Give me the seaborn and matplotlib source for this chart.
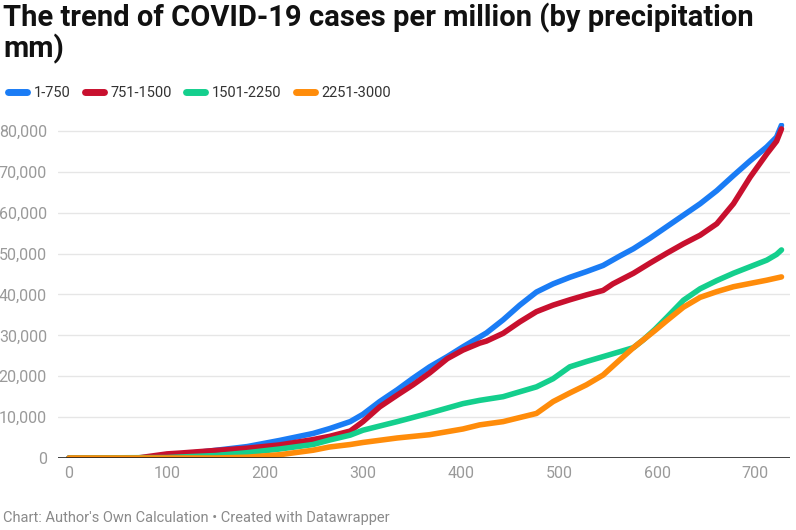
import numpy as np
import pandas as pd
import matplotlib
matplotlib.use("Agg")
import matplotlib.pyplot as plt
import seaborn as sns
from matplotlib.lines import Line2D
from matplotlib.ticker import FuncFormatter

# ---- data ----
series_names = ["1-750", "751-1500", "1501-2250", "2251-3000"]
series_colors = ["#1a7cf5", "#c8102e", "#14cf8d", "#ff8c0a"]

days_a = [0, 70, 90, 113, 147, 182, 215, 249, 266, 287, 300, 317, 335, 351, 368, 386, 402, 419, 426, 443, 460, 477, 494, 511, 528, 545, 562, 576, 593, 610, 627, 644, 661, 678, 695, 712, 722, 727]
vals_a = [0, 0, 300, 900, 1800, 2800, 4300, 6000, 7200, 8900, 10700, 13800, 16700, 19500, 22300, 24800, 27200, 29600, 30600, 33800, 37400, 40600, 42600, 44200, 45600, 47100, 49400, 51200, 53800, 56600, 59400, 62200, 65400, 69100, 72700, 76100, 78500, 81400]

days_b = [0, 70, 85, 100, 113, 147, 182, 215, 249, 266, 287, 300, 317, 335, 351, 368, 386, 402, 419, 426, 443, 460, 477, 494, 511, 528, 545, 555, 576, 593, 610, 627, 644, 661, 678, 695, 712, 722, 727]
vals_b = [0, 0, 500, 1000, 1200, 1800, 2400, 3200, 4500, 5300, 6600, 8900, 12500, 15400, 17900, 20800, 24300, 26400, 28100, 28600, 30500, 33300, 35800, 37400, 38700, 39900, 41000, 42600, 45200, 47700, 50100, 52400, 54500, 57300, 62200, 68700, 74400, 77500, 80500]

days_c = [0, 100, 150, 182, 215, 249, 266, 287, 300, 335, 368, 402, 419, 443, 460, 477, 494, 511, 528, 545, 562, 576, 586, 598, 610, 627, 644, 661, 678, 695, 712, 722, 727]
vals_c = [0, 100, 600, 1300, 2200, 3300, 4400, 5600, 6800, 8900, 11000, 13300, 14100, 15000, 16200, 17400, 19400, 22300, 23600, 24800, 26000, 27000, 28900, 31500, 34400, 38600, 41400, 43400, 45200, 46800, 48400, 49800, 50900]

days_d = [0, 150, 182, 215, 249, 266, 287, 300, 335, 368, 402, 419, 443, 477, 487, 494, 511, 528, 545, 562, 576, 586, 598, 610, 627, 644, 661, 678, 695, 712, 727]
vals_d = [0, 0, 200, 800, 1900, 2700, 3300, 3800, 4900, 5700, 7100, 8100, 8900, 10900, 12600, 13800, 15900, 17900, 20300, 24000, 27000, 28900, 31200, 33600, 36900, 39300, 40700, 41900, 42700, 43500, 44300]

y_ticks = [0, 10000, 20000, 30000, 40000, 50000, 60000, 70000, 80000]
x_ticks = [0, 100, 200, 300, 400, 500, 600, 700]

title = "The trend of COVID-19 cases per million (by precipitation\nmm)"
footer = "Chart: Author's Own Calculation \u2022 Created with Datawrapper"

frames = []
for name, d, v in zip(series_names, [days_a, days_b, days_c, days_d], [vals_a, vals_b, vals_c, vals_d]):
    frames.append(pd.DataFrame({"day": d, "cases": v, "group": name}))
df = pd.concat(frames, ignore_index=True)

sns.set_theme(style="white")
plt.rcParams["font.family"] = ["Roboto", "DejaVu Sans"]

W, H = 796, 530
fig = plt.figure(figsize=(W / 100, H / 100), dpi=100)
ax = fig.add_axes([58 / W, 1 - 458 / H, (790 - 58) / W, (458 - 122.8) / H])

sns.lineplot(data=df, x="day", y="cases", hue="group", hue_order=series_names,
             palette=dict(zip(series_names, series_colors)), linewidth=4.0,
             ax=ax, legend=False, sort=True, estimator=None,
             solid_capstyle="round", solid_joinstyle="round", zorder=3)

ax.set_xlim(-11.2, 735.7)
ax.set_ylim(0, 82000)
ax.set_xticks(x_ticks)
ax.set_yticks(y_ticks)
ax.yaxis.set_major_formatter(FuncFormatter(lambda v, p: f"{int(v):,}"))
ax.set_xlabel("")
ax.set_ylabel("")
for s in ["top", "right", "left", "bottom"]:
    ax.spines[s].set_visible(False)
ax.grid(axis="y", color="#e6e6e6", linewidth=1.0, zorder=0)
ax.grid(axis="x", visible=False)
ax.axhline(0, color="#222222", linewidth=1.2, zorder=4)
ax.tick_params(axis="both", length=0, labelsize=11.5, colors="#9a9a9a")
ax.tick_params(axis="y", pad=8)
ax.tick_params(axis="x", pad=6)
for lbl in ax.get_yticklabels():
    lbl.set_horizontalalignment("right")

fig.text(3 / W, 1 - 3 / H, title, ha="left", va="top", fontsize=21, fontweight="bold",
         color="#111111", linespacing=1.05)

# legend
handles = [Line2D([0], [0], color=c, linewidth=5, solid_capstyle="round") for c in series_colors]
fig.legend(handles, series_names, loc="center left", bbox_to_anchor=(-5 / W, 1 - 93 / H),
           ncol=4, frameon=False, fontsize=10.5, handlelength=1.3, handletextpad=0.45,
           columnspacing=1.0, labelcolor="#333333")

fig.text(3 / W, 1 - 518 / H, footer, ha="left", va="center", fontsize=10.5, color="#8a8a8a")

fig.savefig("out.png", dpi=100)
